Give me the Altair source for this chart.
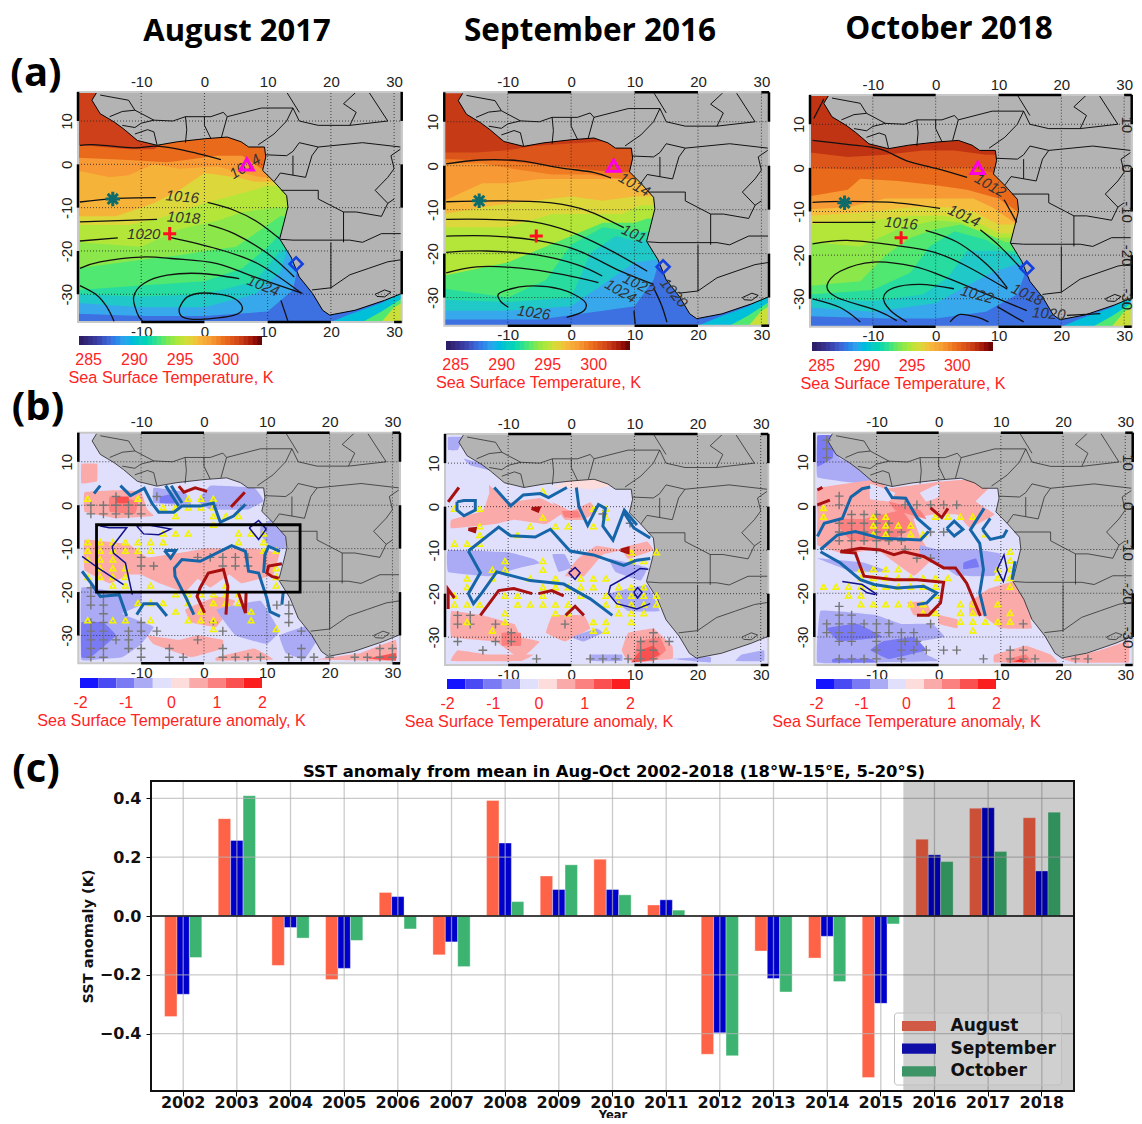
import altair as alt
import pandas as pd

W, H = 1126, 1110
M = 8
LON0, LON1, LAT0, LAT1 = -20.0, 31.2, -36.4, 16.7

# ---------- bar chart values ----------
YEARS = list(range(2002, 2019))
AUG = [-.342, .331, -.168, -.216, .080, -.132, .393, .136, .193, .0375, -.470, -.119, -.143, -.549, .261, .366, .334]
SEP = [-.266, .257, -.039, -.178, .066, -.088, .248, .090, .090, .055, -.397, -.2125, -.069, -.297, .208, .368, .153]
OCT = [-.141, .409, -.075, -.083, -.044, -.172, .049, .174, .072, .020, -.475, -.258, -.223, -.027, .185, .219, .353]

# ---------- geography ----------
COAST = [(-17, 16.7), (-17.8, 14.8), (-16.5, 11.7), (-14.3, 9.8), (-12.8, 8.2), (-10.6, 5.5), (-7.5, 4.4), (-4.3, 5.2),
         (0, 5.9), (3.6, 6.3), (5.8, 5.2), (7, 4), (9.5, 4), (9.7, 1.7), (9.2, -1.4), (11, -4), (13, -7.2), (13.2, -9.8),
         (12.6, -13.3), (11.9, -17.2), (13.7, -21.4), (15, -26), (17.1, -29.8), (18.7, -33.7), (19.8, -34.8),
         (23.8, -33.7), (28.5, -31.4), (31.2, -29.8), (31.2, 16.7)]
BORDERS = [
    [(-16.5, 16), (-12, 14.8), (-11, 12.5), (-8, 10.2), (-5, 10), (-3, 11), (1, 11), (3, 12), (3.6, 11), (9, 13), (14, 13)],
    [(-15, 11), (-13, 12.2), (-11, 12.5)], [(-13, 9), (-11, 8.5), (-10, 9.5), (-8, 10.2)],
    [(-11, 7), (-9, 8), (-8, 7.5), (-7.5, 4.5)], [(-3, 5), (-2.8, 8), (-3, 11)], [(1, 6), (0, 9), (0, 11)],
    [(2.7, 6.3), (3.6, 11)], [(8.5, 4.5), (11, 7), (13, 10), (14, 13)], [(14, 13), (15, 10), (18, 9), (23, 9), (29, 10)],
    [(9.7, 2.2), (13, 2), (14, 3), (15, 5), (18, 4), (25, 5), (31, 4)], [(11, -4), (12, -2), (14, -2.5), (14, 2)],
    [(12.2, -6), (18, -6), (18, -8), (22, -11), (24, -11), (28, -12), (29, -9), (30, -8)],
    [(12, -17.3), (14, -17.5), (23, -17.5), (25, -18)], [(22, -11), (22, -18)], [(20, -18), (20, -22), (20, -28.5)],
    [(17, -29), (20, -28.5), (23, -25.5), (26, -24), (29, -22.5), (31.2, -22)], [(25, -18), (28, -16), (31.2, -16)],
    [(23, 9), (24, 12), (22, 14), (24, 16.7)], [(13, 16.7), (15, 12)], [(29, -3), (30, -1), (29.5, 2), (31, 3.5)],
    [(14, -2.5), (16, -3), (17, 2), (18, 4)], [(29, -3), (27, -6), (29, -9)], [(26, 16.7), (29, 10)],
    [(27, -30), (28.5, -29), (29.5, -29.5), (28.5, -30.6), (27.3, -30.5), (27, -30)],
]
GRID_LON = [-10, 0, 10, 20, 30]
GRID_LAT = [10, 0, -10, -20, -30]

# ---------- colour scales ----------
SST_STOPS = [284, 286, 287.5, 289, 290.5, 292, 293, 294, 295, 296, 297, 298.5, 300, 301.5, 303, 304]
SST_COLORS = ['#2a1a5e', '#3a3fa8', '#3d70e0', '#38a8ec', '#20c8c8', '#28dca0', '#50e870', '#8ce84a', '#b4e63a', '#dcd83c',
              '#f5bc3e', '#f79a35', '#ea6a1c', '#d0431a', '#a01208', '#5a0404']
ANOM_EDGES = [-2, -1.6, -1.2, -.8, -.4, 0, .4, .8, 1.2, 1.6, 2]
ANOM_COLORS = ['#1414ff', '#4a4af5', '#7a7af5', '#aaaaf5', '#e0e0fc', '#fddcdc', '#fbaaaa', '#fb8080', '#fb5050', '#fb1e1e']

# ---------- (a) SST bands: value, upper boundary west to east ----------
SE_SST = [(290, [(20, -36.4), (23, -34.6), (28, -32), (31.2, -29.5), (31.2, -36.4)]),
          (293, [(25, -36.4), (28, -34), (31.2, -31), (31.2, -36.4)]),
          (295.5, [(28, -36.4), (30, -33), (31.2, -32), (31.2, -36.4)])]
SST_A1 = [(301.6, [(-20, 16.7), (31.2, 16.7)]),
          (300, [(-20, 4.5), (-12, 3.5), (-8, 3.5), (-5, 6), (31.2, 8)]),
          (298.5, [(-20, 1.5), (-12, 1), (-6, .5), (-3, 1), (2, 2), (6, 2), (9, -1), (31.2, -1)]),
          (297.4, [(-20, -1.5), (-15, -3), (-12, -2.5), (-8, 0), (-4, -1), (2, -.5), (6, -2), (9, -3), (31.2, -3)]),
          (296, [(-20, -12), (-14, -12), (-8, -9), (-4, -6), (0, -2), (5, -3), (8, -4), (31.2, -4)]),
          (295, [(-20, -14), (-12, -14), (-6, -12), (0, -9), (5, -7), (10, -5), (31.2, -5)]),
          (294, [(-20, -18), (-10, -19), (-4, -15), (2, -13), (6, -11), (11, -10), (31.2, -10)]),
          (293, [(-20, -24), (-10, -22), (-4, -21), (0, -20), (5, -19), (10, -14), (12, -12), (31.2, -12)]),
          (292, [(-20, -29), (-10, -28), (0, -27), (6, -24), (10, -19), (12, -16), (31.2, -16)]),
          (290.5, [(-20, -30), (-10, -30.5), (0, -30), (8, -27), (12, -20), (14, -19), (31.2, -19)]),
          (289, [(-20, -32), (-10, -33), (0, -33), (8, -30), (12, -25), (13, -20), (31.2, -20)]),
          (287.5, [(-20, -34.5), (-10, -35), (0, -35), (10, -34), (14, -29), (15, -22), (31.2, -22)])]
SST_A2 = [(301.8, [(-20, 16.7), (31.2, 16.7)]),
          (300.8, [(-20, 3), (-15, 3), (-10, 3.5), (-6, 4.5), (31.2, 8)]),
          (299.5, [(-20, 1.5), (-10, 1), (-3, 0), (3, -1), (7, -1.5), (31.2, -1)]),
          (298.5, [(-20, .5), (-14, .5), (-8, -1), (-3, -2), (3, -2), (8, -3), (31.2, -3)]),
          (297.2, [(-20, -8), (-14, -4), (-10, -4), (-5, -3), (0, -3), (5, -3), (8, -3), (31.2, -3)]),
          (296, [(-20, -11), (-12, -9), (-6, -8), (0, -7), (5, -8), (10, -7), (31.2, -7)]),
          (295, [(-20, -14), (-10, -14), (-3, -11), (3, -11), (8, -11), (11, -9), (31.2, -9)]),
          (293, [(-20, -25), (-10, -22), (-5, -19), (0, -16), (5, -13), (10, -13), (12, -12), (31.2, -12)]),
          (292, [(-20, -28), (-10, -30), (-4, -26), (0, -18), (5, -14), (10, -15), (31.2, -15)]),
          (290.5, [(-20, -30.5), (-10, -31), (0, -30), (3, -20), (7, -16), (10, -17), (31.2, -17)]),
          (289, [(-20, -33), (-10, -33), (0, -32), (5, -27), (10, -22), (31.2, -18)]),
          (287.5, [(-20, -35), (-5, -35), (5, -33), (10, -32), (13, -26), (14, -21), (31.2, -20)])]
SST_A3 = [(302, [(-20, 16.7), (31.2, 16.7)]),
          (300.8, [(-20, 3.5), (-14, 2.5), (-8, 3), (-2, 4), (3, 4), (8, 3), (31.2, 3)]),
          (300, [(-20, 0), (-12, -.5), (-6, 0), (0, 0), (5, 0), (9, -1), (31.2, -1)]),
          (298.5, [(-20, -6.5), (-14, -5), (-12, -2.5), (-6, -3), (0, -4), (5, -5), (10, -7), (13, -10), (31.2, -12)]),
          (297, [(-20, -9.5), (-14, -9), (-8, -7), (-3, -7), (2, -7), (6, -7), (9, -9), (13, -13), (31.2, -13)]),
          (296, [(-20, -11), (-10, -10), (-4, -9), (2, -9), (6, -10), (10, -13), (31.2, -13)]),
          (295, [(-20, -13), (-10, -12), (-4, -11), (1, -11), (6, -12), (10, -15), (31.2, -15)]),
          (294, [(-20, -17), (-12, -18), (-6, -14), (0, -12), (4, -12.5), (9, -16), (31.2, -16)]),
          (293, [(-20, -27), (-12, -26), (-8, -20), (-4, -16), (0, -14), (4, -13), (8, -15), (11, -17), (31.2, -17)]),
          (292, [(-20, -29), (-10, -28), (-4, -24), (-1, -18), (3, -14.5), (8, -16.5), (11, -19), (31.2, -19)]),
          (290.5, [(-20, -30), (-10, -30.5), (-2, -29), (2, -25), (5, -19), (10, -19), (13, -20), (31.2, -20)]),
          (289, [(-20, -32), (-10, -33), (0, -31), (5, -27), (9, -24), (13, -22), (31.2, -22)]),
          (287.5, [(-20, -34), (-8, -34.5), (0, -34.5), (8, -33), (13, -29), (14.5, -23), (31.2, -23)])]

# ---------- (a) pressure contours ----------
CONT_A1 = [[(-19.7, 4.4), (-17, 4.5), (-11.2, 3.8), (-7.5, 4.2), (-3.2, 3.2), (2.6, 1.1)],
           [(-19.7, -8.7), (-14.3, -7.9), (-7.7, -7.7)],
           [(.5, -8.8), (4.7, -10.6), (8.4, -13.3), (11.9, -17.2)],
           [(-19.7, -13.3), (-7.5, -12.7)], [(.6, -13.9), (4.7, -16), (10, -20.6), (14.2, -26)],
           [(-19.7, -17.7), (-13.7, -17)], [(-5.3, -16.9), (2, -19.5), (8.4, -22.9), (15.3, -29.7)],
           [(-19.7, -24), (-16.5, -22.5), (-10, -21.4), (-4.8, -21.8), (2, -22.9), (7.9, -26), (15.5, -29.8)],
           [(5.5, -26.4), (-.6, -25.2), (-5.9, -25.6), (-9.6, -27.5), (-11.2, -30.6), (-10.6, -34.5), (-9.8, -36.2)],
           [(12.1, -31.4), (13.2, -36.2)],
           [(-4, -33.3), (-2.7, -30.6), (0, -29.7), (4.2, -30.6), (6, -33), (4.7, -34.8), (-.6, -35.8), (-3.5, -35.2), (-4, -33.3)],
           [(-19.7, -28), (-17, -30.2), (-15.4, -33), (-14.3, -36.2)]]
LAB_A1 = [('1014', 6.4, -.5, 328), ('1016', -3.5, -7.5, 5), ('1018', -3.3, -12.3, 4), ('1020', -9.6, -16, 0), ('1024', 9.3, -28, 22)]
CONT_A2 = [[(-19.7, .4), (-14.4, 1.3), (-8, 1.1), (-1.7, -.5), (3.5, -1.5), (6.3, -2.8)],
           [(-19.7, -8.2), (-10.7, -8), (-2.8, -8.5), (2.5, -10.2), (8.3, -14.1)],
           [(-19.7, -12.2), (-13.4, -12.2), (-6, -12.8), (-.2, -15), (5.6, -18.8), (12, -24)],
           [(-19.7, -16), (-12.3, -16), (-5.4, -17), (.9, -19.2), (7.8, -24), (13, -27)],
           [(-19.7, -19.7), (-13.4, -19.4), (-5.4, -20.3), (.9, -22.5), (4.9, -25.1)], [(9.9, -33), (10.1, -36)],
           [(-19.7, -24.4), (-14.9, -23), (-8, -23.3), (-1.2, -24.8), (4.3, -26.6)],
           [(-9.9, -32.2), (-11.2, -30.7), (-11.2, -28.9), (-7, -27.4), (-1.7, -28.1), (2, -30.7), (2, -33), (-.7, -34.5)],
           [(13, -27.8), (14.3, -31.9), (15.1, -35.6)]]
LAB_A2 = [('1014', 10, -4.3, 30), ('101', 9.9, -15.5, 25), ('1022', 10.7, -27, 25), ('1024', 7.8, -28.5, 30),
          ('1026', -5.9, -33.4, 8), ('1020', 16.2, -28.9, 50)]
CONT_A3 = [[(-17.8, 15.8), (-19.4, 11.3)],
           [(-19.6, 6.3), (-14.1, 5.4), (-8.8, 4.3), (-4.6, 1.6), (.2, -.2), (5, -2.2)], [(10.9, -7.3), (12.9, -12.5)],
           [(-19.6, -7.9), (-14.1, -7.7), (-6.2, -8), (.7, -9.3)], [(7.1, -14.2), (10.3, -18.1), (14, -23.7)],
           [(-19.6, -12.5), (-9.6, -12.5)], [(-1.6, -14.3), (3.4, -17), (8.2, -22.2), (11.4, -27.5)],
           [(-19.6, -17.4), (-14.1, -16.6), (-6.2, -17.8), (-.3, -19.3), (4.5, -22.2), (11.4, -27.8)],
           [(14.5, -32.7), (8.2, -29), (1.8, -25.2), (-3.5, -22.6), (-9.9, -21.6), (-15.2, -23.7), (-17.3, -27), (-15.7, -29.7), (-9.3, -32.7), (-6.2, -35)],
           [(2.9, -27.7), (-2.4, -26.7), (-6.7, -27.5), (-8.3, -29.7), (-7.2, -32.7), (-4.6, -35.3)], [(9.8, -31.8), (14, -35.3)],
           [(-19.6, -30), (-15.2, -32), (-12, -35.3)], [(2.3, -35.3), (3.9, -33.6), (6.6, -34.2), (8.4, -35.3)],
           [(20.9, -33.8), (26.2, -33.4)]]
LAB_A3 = [('1012', 8.7, -4, 30), ('1014', 4.5, -11, 25), ('1016', -5.5, -12.7, 5), ('1018', 14.6, -29, 25),
          ('1022', 6.6, -29, 15), ('1020', 18, -33.4, 5)]
SITE_TRI = (6.7, 0)
SITE_STAR = (-14.5, -8)
SITE_PLUS = (-5.5, -16)
SITE_DIAMOND = (14.5, -23)

# ---------- (b) anomaly patches: value, outline ----------
ANOM_B1 = [(.6, [(-19.5, 9.5), (-17, 9.5), (-17, 5.5), (-19.5, 5)]),
           (-.6, [(-8, 4), (-3, 3), (-2, 0), (-8, .5)]), (-1, [(-7, 2), (-5, 2.5), (-4.5, .5), (-7, .5)]),
           (-.6, [(1, 4.5), (8, 4), (9.5, 1), (7, -1), (1, -1), (-1, 1)]),
           (.6, [(-19, 3), (-13, 3.5), (-10, 3), (-9, -1), (-8, -2.5), (-14, -3), (-19, -1.5)]),
           (1, [(-15, 2), (-10.5, 1), (-11, -2), (-15, -1.5)]), (1.4, [(-14, 2), (-12, 2), (-12, .5), (-14, .5)]),
           (-.6, [(9, -5), (11, -3), (13, -7), (13, -10), (11, -10), (9, -7)]),
           (.6, [(-19, -8), (-12, -9), (-9, -12), (-4, -11), (0, -10), (3, -10), (8, -10), (12, -11), (11, -16), (6, -18), (4, -16), (1, -19), (-1, -17), (-3, -20), (-7, -18), (-10, -16), (-12, -16), (-15, -18), (-19, -15)]),
           (-.6, [(-19.5, -19), (-14, -20), (-10, -20), (-10, -23), (-13, -25), (-8, -28), (-10, -32), (-13, -35), (-17, -35.5), (-19.5, -35.5)]),
           (-1, [(-19.5, -27), (-16, -27), (-14, -30), (-18, -35), (-19.5, -35)]),
           (.6, [(-3, -24), (2, -21), (5, -22), (2, -28), (-2, -27)]),
           (.6, [(-9, -30), (-4, -31), (-1, -30), (3, -31), (3, -33), (-2, -35), (-8, -32)]),
           (.6, [(2, -35), (8, -33), (11, -35.5), (2, -35.8)]),
           (-.6, [(2, -24), (9, -22), (12, -29), (10, -32), (5, -30)]),
           (-.6, [(12, -30), (16, -28), (18, -31), (16, -35.5), (13, -34)]),
           (.6, [(18, -35.5), (25, -34), (30.5, -31), (30.5, -35.8)]), (1.4, [(26, -35.3), (30.5, -34), (30.5, -35.8)])]
ANOM_B2 = [(.2, [(-3, 4.5), (0, 6), (4, 6.5), (7, 5), (3, 4)]),
           (-.6, [(-19.5, 16), (-17, 16), (-18, 13), (-19.5, 13)]), (-.6, [(-17, 11), (-13, 9.5), (-12, 8), (-16, 9.5)]),
           (.6, [(-13, 5), (-10, 1), (-5, 2), (-1, -1), (-4, -4), (-9, -3), (-12, -4), (-19, -5), (-19, -3), (-14, -1), (-13, 3)]),
           (.6, [(-3, 1), (0, -1), (3, 1), (4, -1), (2, -3), (-1, -3)]), (1, [(-1.5, -1), (1, -1), (1.5, -2.5), (-1, -2.5)]),
           (-.6, [(-19.5, -10), (-10, -10.5), (-6, -12), (-5, -13), (-8, -14), (-13, -16), (-19.5, -15)]),
           (-.6, [(-3, -11), (-1, -11), (0, -14), (-2, -15)]),
           (.6, [(1, -12), (4, -9), (8, -10), (5, -11), (2, -16), (-1, -16)]), (.6, [(8, -9.5), (12, -8), (13, -10), (9, -12)]),
           (-.6, [(6, -12), (12, -14), (11, -17), (7, -15)]), (-.6, [(6, -20), (12, -18), (14, -24), (9, -24)]),
           (.6, [(-19, -24), (-14, -25), (-9, -27), (-8, -30), (-5, -31), (-8, -35), (-12, -31), (-19, -30)]),
           (1, [(-11, -29), (-8, -29), (-8, -32), (-11, -32)]),
           (.6, [(-3, -25), (2, -25), (3, -28), (-1, -31), (-4, -29)]),
           (.6, [(9, -29), (13, -28), (16, -32), (16, -35), (9, -35.5), (8, -33)]),
           (1, [(10.5, -31), (14, -30), (15, -33), (13, -35.5), (10, -35.5)]), (1.4, [(11, -33), (13, -32), (14, -34), (12, -35.5), (9.5, -35.8)]),
           (-.6, [(0, -30), (4, -28), (5, -29), (2, -31)]), (-.6, [(16, -35), (22, -34.5), (22, -35.8)]),
           (-.6, [(27, -34), (30.5, -33), (30.5, -35.5), (26, -35.5)]), (-.6, [(3, -34), (8, -34), (8, -35.5), (3, -35.5)]),
           (.6, [(-18, -33), (-13, -34), (-6, -34), (-8, -35.5), (-19, -35.5)])]
ANOM_B3 = [(-.6, [(-19.5, 16), (-16.5, 16), (-16, 11), (-13, 9), (-10, 6.5), (-12, 5), (-19.5, 6.5)]),
           (-1, [(-19.5, 16), (-17, 16), (-17, 11), (-19.5, 9)]),
           (.6, [(-19.5, -2), (-19.5, 4), (-10, 6), (-8, 4), (0, 5.5), (5, 6), (8, 4), (6, 1), (9, -2), (5, -5), (3, -2), (-1, -2), (-4, -3), (-3, -7), (-1, -12), (-4, -16), (-10, -10), (-15, -11), (-19.5, -9)]),
           (-.2, [(-11, 5), (-7, 3), (-8, 1), (-11, 1.5)]), (-.2, [(-3, 3), (0, 5), (0, 2), (-2, 1)]),
           (1, [(-16, -3), (-12, -3), (-6, -1), (-4, -5), (-8, -8), (-14, -8), (-16, -5)]), (1, [(-8, 1), (-3, -1), (-2, -3), (-7, -1)]),
           (-.6, [(-3, -9), (0, -10), (6, -10), (10, -11), (9, -16), (3, -16), (0, -13), (-3, -11)]),
           (-1, [(4, -13), (6, -12), (6.5, -14), (4, -14.5)]), (-.6, [(-19.5, -12), (-12, -13), (-8, -15), (-14, -15)]),
           (.6, [(5, -22), (8, -19), (13, -17), (14, -22), (15, -28), (10, -28), (7, -25), (5, -25)]),
           (.6, [(-5, -22), (-2, -22), (-1, -25), (-4, -25)]), (.6, [(0, -25), (3, -26), (3, -28), (0, -27)]),
           (.6, [(11, -25), (15, -25), (14, -28), (11, -27)]),
           (-.6, [(-19, -24), (-10, -25), (-6, -27), (-1, -27), (1, -30), (-3, -31), (-2, -34), (0, -35.5), (-10, -35.8), (-19.5, -35.8)]),
           (-1, [(-18, -28), (-13, -27), (-9, -30), (-16, -31)]), (-1, [(-9, -31), (-4, -30), (-2, -33), (-8, -35), (-11, -33)]),
           (-1, [(-17, -35), (-11, -35), (-10, -35.8), (-17, -35.8)]),
           (.6, [(9, -34), (14, -32), (18, -34), (19, -35.8), (9, -35.8)]), (1, [(11, -35), (14, -34), (15, -35.8), (11, -35.8)]),
           (1.6, [(12, -35.6), (13.5, -35), (14, -35.8)]), (.6, [(20, -35), (26, -33), (30.5, -31), (30.5, -35.8), (22, -35.8)])]

# ---------- (b) significance markers, (lat, lons) ----------
PLUS_B1 = [(2, [-14, -7.5]), (0, [-18, -16, -14, -12, -10]), (-2, [-18, -16, -14, -12, -10]), (-12, [-10, -1, 1, 3, 5, 7]),
           (-14, [-10, -8, 3, 5, 7]), (-19, [-18]), (-21, [-18, -16]), (-23, [-18, -16, 11.6, 13.5]), (-25, [-16, 13.5]),
           (-27, [-18, -16, -10, 1.5, 13.5]), (-29, [-18, -16, -12, -10, -7.5, 3, 15.5]), (-31, [-18, -16, -14, -12, -1]),
           (-33, [-18, -16, -12, -10, -5.5, 3, 15.5, 28, 30]),
           (-35, [-18, -16, -10, -5.5, -3.3, 3, 5, 7, 9, 13.5, 15.5, 17.5, 20, 24, 26, 28, 30])]
TRI_B1 = [(1.5, [-18.5, -10.5, -2.5, -.5, 1.5]), (-.5, [-6.5, -4.5, -2.5, -.5, 1.5]), (-2.5, [-4.5, 1.5, 3.5, 5.5]), (-4.5, [1.5]),
          (-6.5, [-6.5, -4.5, -2.5, 5.5, 7.5, 9.5]), (-8.5, [-18.5, -16.5, -14.5, -12.5, -10.5, -8.5, -6.5, 5.5, 9.5]),
          (-10.5, [-18.5, -16.5, -14.5, -12.5, -10.5, -8.5, 9.5, 11.5]), (-12.5, [-18.5, -16.5, -14.5]),
          (-14.5, [-16.5, -14.5, -12.5, 11.5]), (-16.5, [-18.5, -16.5, -14.5, -12.5, 11.5]),
          (-18.5, [-14.5, -12.5, -8.5, 3.5, 11.5]), (-20.5, [-4.5, -2.5, -.5, 1.5, 3.5, 5.5]),
          (-22.5, [-10.5, -8.5, -6.5, -2.5, 1.5, 3.5, 5.5]), (-24.5, [-4.5, -.5, 7.5]),
          (-26.5, [-18.5, -14.5, -12.5, -8.5, -2.5, -.5, 1.5, 7.5]), (-28.5, [1.5, 11.5])]
PLUS_B2 = [(-25, [-18, -16]), (-27, [-18, -16, -12, -1]), (-29, [-9.5, 13]), (-31, [-18, -12, -9.5, 11, 13, 15.5]),
           (-33, [-14, 11, 13]), (-35, [-5.5, 3, 5, 7, 9, 11, 13]), (-1.7, [5]), (-3.8, [9.3])]
TRI_B2 = [(3.5, [-4.5]), (-.5, [-18.5, -14.5, 3.5, 5.5]), (-2.5, [-4.5, 5.5]), (-4.5, [-14.5, -6.5, -2.5, -.5, 3.5]),
          (-6.5, [-14.5, -8.5]), (-8.5, [-18.5, -16.5, -14.5]), (-10.5, [9.5, 13.5]), (-12.5, [-10.5, -4.5, 9.5, 11.5]),
          (-14.5, [-12.5, -10.5, -4.5]), (-16.5, [-16.5, -12.5, -6.5, -2.5, 1.5, 3.5, 5.5]),
          (-18.5, [-16.5, -4.5, -2.5, -.5, 1.5, 3.5, 7.5, 9.5, 11.5]),
          (-20.5, [-18.5, -10.5, -8.5, -4.5, 1.5, 5.5, 7.5, 9.5, 11.5, 13.5]),
          (-22.5, [-18.5, -16.5, -14.5, -8.5, -6.5, -4.5, -2.5, -.5, 5.5, 7.5, 9.5, 11.5, 13.5]),
          (-24.5, [-10.5, -2.5, -.5, 7.5, 9.5, 11.5]), (-26.5, [-16.5, -10.5, 3.5, 5.5, 9.5]), (-28.5, [-12.5, 3.5, 5.5])]
PLUS_B3 = [(15, [-18]), (13, [-18]), (11, [-18]), (2.2, [-16]), (.2, [-16, -5.4, -3.5, -1.3, .8, 2.9]), (-2, [-14, -12, -10]),
           (-4, [-16, -14, -12, -10, -8]), (-6, [-16, -14, -12, -10, -8, -6, -1.3, .8]), (-8, [-16, -14, -12, -10, -8, -6]),
           (-10, [-14, -10, -5.4]), (-12, [-3.5, -1.3]), (-23, [-16]), (-25, [-16, -14]),
           (-27, [-18, -16, -14, -12, -10, -8, -1.3, 13.6]), (-29, [-18, -16, -14, -10, -8, -6, -4]),
           (-31, [-16, -14, -10, -6, -5.4, -3.5]), (-33, [-10, -6, -4, -2, .8, 2.9, 11.5, 13.6]),
           (-35, [-16, -14, -12, -10, -6, 7.2, 11.5, 13.6, 15.5, 22, 24])]
TRI_B3 = [(-.5, [-18.5]), (-2.5, [-18.5, -10.5, -8.5, -.5, 1.5, 3.5, 5.5]), (-4.5, [-10.5, -8.5, -6.5, -4.5]),
          (-6.5, [-10.5, -8.5, -4.5, -2.5, 7.5]), (-10.5, [11.5]), (-12.5, [11.5]),
          (-14.5, [-12.5, -10.5, -8.5, -6.5, 9.5, 11.5]), (-16.5, [-12.5, -10.5, -8.5, -6.5, -4.5, -2.5, -.5, 1.5, 9.5, 11.5]),
          (-18.5, [-18.5, -16.5, -14.5, -12.5, -10.5, -8.5, -6.5, -4.5, -2.5, -.5, 11.5]), (-20.5, [-14.5, -12.5, -.5]),
          (-22.5, [-12.5, -10.5, -8.5, -6.5, -4.5, -2.5, 3.5, 5.5, 9.5]), (-24.5, [-2.5, -.5, 3.5, 5.5, 11.5]),
          (-26.5, [3.5, 5.5, 7.5, 9.5, 11.5]), (-28.5, [5.5])]

# ---------- (b) contour lines ----------
BLUE_B1 = [[(-17.5, 2.7), (-16.5, 4.5)],
           [(-13.3, 4.5), (-11.7, 2.2), (-9.5, 3.9), (-8.3, .5), (-7.2, -1.6), (-4.8, -1.6), (-3.5, -.2), (-.6, -.2), (1.5, .5), (2.6, -3.9), (4.7, -2.5), (6.6, .2)],
           [(-6.1, 4.5), (-4, -.2)], [(-5.2, 4.5), (-3.5, .5)],
           [(-19.4, -15.2), (-18, -17.9), (-16.5, -21), (-13.5, -20.6), (-12.3, -25.5)],
           [(-10.7, -25.2), (-9.6, -22.7), (-7.5, -22.7), (-5.9, -25.5)],
           [(-1.6, -25.2), (-2.7, -21.8), (-4.6, -16.4), (-4.7, -14.5), (-3.5, -12.5), (-.6, -12.9), (4.4, -9.3), (6.6, -10.6), (7.1, -15.2), (8.7, -15.6), (10, -21.4), (10.5, -24.5), (12.1, -25.6)],
           [(9.5, -15.6), (9.7, -11.4), (10.3, -9.5), (12.1, -10.6)], [(12.4, -22.9), (12.6, -20.2)],
           [(-6.3, -10.4), (-4.5, -10.4), (-5.3, -12.2), (-6.3, -10.4)]]
RED_B1 = [[(-4, 4.4), (-3.2, 3), (-1.4, 4), (.5, 3.2)], [(4.3, -.4), (6.5, 3)],
          [(.1, -24.8), (-1.1, -21), (-.6, -19), (.7, -15.6), (3.1, -14.8), (3.8, -18.7), (3.5, -25.2)],
          [(5.5, -20.2), (6.6, -24.8), (6.7, -20.2)], [(12.4, -13.5), (10.3, -14), (10, -15.6), (10.8, -16.4), (11.9, -16.8)]]
NAVY_B1 = [[(-16.5, -4.8), (-15.1, -5.2), (-12.3, -5.2), (-14.6, -9.5), (-14.4, -11), (-12.5, -13.3), (-11.4, -20.6)],
           [(-19.4, -11.8), (-16.5, -14.8), (-12.8, -18.3)],
           [(-10.7, -4.8), (-9, -4.5), (-5.3, -5.5), (-7.2, -6.8), (-9.6, -6.6), (-10.7, -4.8)],
           [(7.2, -5.2), (8.7, -3.5), (9.9, -5.5), (8.7, -7.9), (7.2, -5.2)]]
BLUE_B2 = [[(-12.2, 4.4), (-9.6, .2), (-7.6, 2.7), (-4.9, 3), (-3.6, 2.1), (-.7, 4.4)],
           [(.8, 4.4), (1.2, 0), (2.6, -4.3), (4.3, .5), (5.4, -.4), (5, -4.5), (6.6, -7.7), (8.4, -.8), (10.4, -4.2)],
           [(8.4, -1.5), (9.9, -4.9), (12.5, -7.2)],
           [(-18.1, 1.1), (-17, 1.4), (-15.2, 1.4), (-15.2, -.8), (-17, -2.1), (-18.1, -.8), (-18.1, 1.1)],
           [(-16.3, -10.2), (-14.4, -15.2), (-16.3, -20), (-15.5, -22.3), (-14.1, -19.7), (-11.8, -15), (-6.5, -17), (-1.2, -17.8), (3, -21.2), (6.5, -25)],
           [(-16.3, -10.2), (-11.5, -4.7), (-9.6, -6.7), (-5.7, -7), (-3.3, -5.2), (-.2, -10.2), (3.5, -11.1), (8.3, -13.5), (10.4, -12.3), (12.5, -11.9)]]
RED_B2 = [[(-19.5, 1.1), (-17.8, 4.4)], [(-19.5, -23.5), (-19.5, -19), (-18.5, -21)],
          [(-14.4, -25), (-11.5, -19.3), (-9.1, -18.8), (-6.2, -20)], [(-5.2, -20), (-3.1, -19.3), (-1.2, -20.5)],
          [(-.9, -25), (.6, -22.9), (2, -25)], [(-6.3, -.4), (-5.1, -.3), (-5.3, -1), (-6.3, -.4)],
          [(-16.3, -5.2), (-15.2, -5), (-15.3, -5.7), (-16.3, -5.2)], [(7.8, -10), (9, -9.5), (9, -10.6), (7.8, -10)]]
NAVY_B2 = [[(-.4, -15.2), (.6, -14), (1.4, -15.2), (.6, -16.7), (-.4, -15.2)],
           [(5.9, -20), (6.2, -18.2), (9.9, -15.2), (10.9, -14.2), (12.2, -14.4)],
           [(5.9, -20), (7.2, -22.3), (10.4, -23.5), (12.5, -22.3)],
           [(9.9, -19.7), (10.5, -18.6), (11.2, -19.7), (10.5, -21), (9.9, -19.7)]]
BLUE_B3 = [[(-19.5, -7), (-18.4, -4), (-15.5, -2.9), (-14.1, 2), (-12.3, 3.9), (-11, 4.3)],
           [(-8.6, 4.3), (-7.5, 1.9), (-5.3, 1.7), (-3.4, -2.9), (-1.3, -5.5)],
           [(-19, -10), (-16.3, -6.7), (-13.4, -5.9), (-9.4, -7.4), (-2.9, -7.8), (-1.6, -5.9)],
           [(-19, -10.5), (-15.8, -13.1), (-12.6, -16.9), (-10.4, -18), (-6.7, -18.8), (-2.4, -18.4), (-.3, -19.9), (-1.9, -22.2), (-3.5, -22.6)],
           [(1.3, -5.2), (2.5, -3.5), (3.9, -5.4), (2.5, -6.9), (1.3, -5.2)],
           [(7.3, -.6), (5.1, -5.5), (6.6, -8.6), (7.2, -14.6), (6.6, -19.9), (7.5, -25.2)],
           [(7, -5.5), (8.3, -2.9)], [(7.1, -5.5), (8.3, -7.7), (10.4, -7), (11, -5.5)], [(11.8, -16.9), (12.3, -12.7)]]
RED_B3 = [[(-19.5, .2), (-17.5, 1.3)], [(-19.5, 3.6), (-18.7, 4.2)], [(-1.3, -.5), (.5, -2.7), (1.5, -.6)],
          [(-15.8, -10.5), (-12.6, -9.7), (-9.4, -10.1), (-7.2, -11.2), (-5.6, -10.5), (-2.4, -11.6), (.8, -14.2), (2.7, -14.2), (4.5, -17.7), (6.7, -25.2)],
          [(-15.8, -10.5), (-13.4, -10.8), (-12.6, -13.9), (-12, -16.1), (-7.2, -16.9), (-3.5, -16.9), (.8, -17.5), (.3, -22.2), (-1.6, -25), (-3.5, -25)]]
NAVY_B3 = [[(-15.5, -17.3), (-12.3, -18), (-9.9, -20.3)], [(-12.6, -18.8), (-11.5, -19.9), (-10.2, -20.3)],
           [(9.4, -14.6), (10.5, -11.2), (11, -14.6), (10.4, -17.3), (9.4, -14.6)]]
BOX_B1 = [(-17.1, 15.3, -4.5, -20)]

PLUS_PATH = 'M-1,0L1,0M0,-1L0,1'
STAR_PATH = 'M-1,0L1,0M0,-1L0,1M-.7,-.7L.7,.7M-.7,.7L.7,-.7'
MAP_FONT = 'Liberation Sans'
BAR_FONT = 'DejaVu Sans'
RED = '#ff2424'


class P:
    def __init__(s, x0, x1, y0, y1, top=True, right=False):
        s.x0, s.x1, s.y0, s.y1, s.top, s.right = x0 - M, x1 - M, y0 - M, y1 - M, top, right


def sx(p):
    return alt.Scale(domain=[LON0, LON1], range=[p.x0, p.x1], nice=False, zero=False)


def sy(p):
    return alt.Scale(domain=[LAT0, LAT1], range=[p.y1, p.y0], nice=False, zero=False)


def X(p, f='lon', axis=None):
    return alt.X(f + ':Q', scale=sx(p), axis=axis, title=None)


def Y(p, f='lat', axis=None):
    return alt.Y(f + ':Q', scale=sy(p), axis=axis, title=None)


def rows(lines, **kw):
    out = []
    for g, line in enumerate(lines):
        for i, (lon, lat) in enumerate(line):
            out.append(dict(g=g, i=i, lon=lon, lat=lat, **kw))
    return pd.DataFrame(out)


def valued_rows(items, close_south=False):
    out = []
    for g, (v, line) in enumerate(items):
        pts = list(line)
        if close_south:
            pts = pts + [(LON1, LAT0), (LON0, LAT0)]
        for i, (lon, lat) in enumerate(pts):
            out.append(dict(g=g, i=i, lon=lon, lat=lat, v=v))
    return pd.DataFrame(out)


def lines(p, data, color, width, interp='linear', dash=None):
    kw = dict(color=color, strokeWidth=width, interpolate=interp)
    if dash:
        kw['strokeDash'] = dash
    return alt.Chart(rows(data)).mark_line(**kw).encode(x=X(p), y=Y(p), detail='g:N', order='i:Q')


def map_axes(p):
    base = dict(domain=False, ticks=False, grid=False, labelFontSize=15, labelFont=MAP_FONT, labelColor='#222',
                labelExpr="'' + datum.value", title=None, labelOverlap=False, labelFlush=False, labelBound=False)
    ticks = pd.DataFrame({'lon': GRID_LON, 'lat': GRID_LAT})
    top = alt.Chart(ticks).mark_point(opacity=0).encode(
        x=X(p, axis=alt.Axis(orient='top', offset=-p.y0, values=GRID_LON, labelPadding=3, **base)),
        y=Y(p, axis=alt.Axis(orient='left', offset=-p.x0, values=GRID_LAT, labelAngle=270, labelAlign='center',
                             labelBaseline='bottom', labelPadding=4, **base)))
    # the canvas ends just past the east frame, so these labels sit against its inside, above the map
    yr = Y(p, axis=alt.Axis(orient='right', offset=-(W - (p.x1 - 13)), values=GRID_LAT, labelAngle=90, labelAlign='center',
                            labelBaseline='bottom', labelPadding=0, zindex=2, **base)) if p.right else Y(p)
    bot = alt.Chart(ticks).mark_point(opacity=0).encode(
        x=X(p, axis=alt.Axis(orient='bottom', offset=-(H - p.y1), values=GRID_LON, labelPadding=2, **base)), y=yr)
    return [top, bot]


def grid_and_frame(p):
    out = []
    gx = pd.DataFrame({'lon': GRID_LON, 'a': LAT0, 'b': LAT1})
    gy = pd.DataFrame({'lat': GRID_LAT, 'a': LON0, 'b': LON1})
    out.append(alt.Chart(gx).mark_rule(color='#222', strokeWidth=.8, strokeDash=[1, 2]).encode(x=X(p), y=Y(p, 'a'), y2='b:Q'))
    out.append(alt.Chart(gy).mark_rule(color='#222', strokeWidth=.8, strokeDash=[1, 2]).encode(y=Y(p), x=X(p, 'a'), x2='b:Q'))
    frame = pd.DataFrame([dict(a=LON0, b=LON1, c=LAT0, d=LAT1)])
    out.append(alt.Chart(frame).mark_rect(fill='transparent', stroke='#c8c8c8', strokeWidth=2).encode(
        x=X(p, 'a'), x2='b:Q', y=Y(p, 'c'), y2='d:Q'))
    hs = pd.DataFrame({'a': [-10, 10, 30], 'b': [0, 20, LON1]})
    vs = pd.DataFrame({'a': [10, 0, -20], 'b': [LAT1, -10, -30]})
    for edge in ([LAT1] if p.top else []) + [LAT0]:
        out.append(alt.Chart(hs.assign(e=edge)).mark_rule(color='black', strokeWidth=2.5).encode(
            x=X(p, 'a'), x2='b:Q', y=Y(p, 'e')))
    for edge in [LON0, LON1]:
        out.append(alt.Chart(vs.assign(e=edge)).mark_rule(color='black', strokeWidth=2.5).encode(
            y=Y(p, 'a'), y2='b:Q', x=X(p, 'e')))
    return out


def land(p, stroke_color, width):
    closed = COAST + [COAST[0]]
    a = alt.Chart(rows([closed])).mark_line(fill='#b3b3b3', color=stroke_color, strokeWidth=width).encode(
        x=X(p), y=Y(p), detail='g:N', order='i:Q')
    return [a, lines(p, BORDERS, stroke_color, width * .9)]


def sst_panel(p, bands, contours, labels, bar):
    fill = alt.Fill('v:Q', scale=alt.Scale(domain=SST_STOPS, range=SST_COLORS), legend=None)
    layers = [alt.Chart(valued_rows(bands, True)).mark_line(strokeWidth=0).encode(
        x=X(p), y=Y(p), detail='g:N', order='i:Q', fill=fill)]
    layers.append(alt.Chart(valued_rows(SE_SST)).mark_line(strokeWidth=0, interpolate='linear').encode(
        x=X(p), y=Y(p), detail='g:N', order='i:Q', fill=fill))
    layers += land(p, 'black', 1)
    layers += grid_and_frame(p)
    layers.append(lines(p, contours, '#111', 1.3, 'cardinal'))
    lab = pd.DataFrame(labels, columns=['t', 'lon', 'lat', 'a'])
    layers.append(alt.Chart(lab).mark_text(font=MAP_FONT, fontSize=15, fontStyle='italic', color='#333').encode(
        x=X(p), y=Y(p), text='t:N', angle=alt.Angle('a:Q', scale=None)))
    for site, shape, col, size, sw in [(SITE_TRI, 'triangle-up', '#ff00e6', 170, 3), (SITE_STAR, STAR_PATH, '#0d6b6b', 210, 3),
                                       (SITE_PLUS, PLUS_PATH, '#ff0f1f', 170, 3), (SITE_DIAMOND, 'diamond', '#1540e0', 170, 2.6)]:
        d = pd.DataFrame([dict(lon=site[0], lat=site[1])])
        layers.append(alt.Chart(d).mark_point(shape=shape, color=col, size=size, strokeWidth=sw, opacity=1, filled=False).encode(x=X(p), y=Y(p)))
    layers += map_axes(p)
    layers += sst_bar(*bar)
    return layers


def sst_bar(x0, x1, y0, y1):
    ks = [284 + .5 * i for i in range(40)]
    d = pd.DataFrame({'a': ks, 'b': [min(k + .7, 304) for k in ks], 'v': [k + .25 for k in ks]})
    ax = alt.Axis(orient='bottom', offset=-(H - (y1 - M)), values=[285, 290, 295, 300], domain=False, ticks=False, grid=False,
                  labelFontSize=16, labelFont=MAP_FONT, labelColor=RED, labelPadding=6, title='Sea Surface Temperature, K',
                  titleFontSize=16.3, titleFont=MAP_FONT, titleColor=RED, titleFontWeight='normal', titlePadding=2)
    c = alt.Chart(d).mark_rect().encode(
        x=alt.X('a:Q', scale=alt.Scale(domain=[284, 304], range=[x0 - M, x1 - M], nice=False, zero=False), axis=ax),
        x2='b:Q', y=alt.value(y0 - M), y2=alt.value(y1 - M),
        fill=alt.Fill('v:Q', scale=alt.Scale(domain=SST_STOPS, range=SST_COLORS), legend=None))
    return [c]


def anom_bar(x0, x1, y0, y1):
    a = ANOM_EDGES[:-1]
    b = ANOM_EDGES[1:]
    d = pd.DataFrame({'a': a, 'b': b, 'c': ANOM_COLORS})
    ax = alt.Axis(orient='bottom', offset=-(H - (y1 - M)), values=[-2, -1, 0, 1, 2], domain=False, ticks=False, grid=False,
                  labelExpr="'' + datum.value", labelFontSize=16, labelFont=MAP_FONT, labelColor=RED, labelPadding=6, labelFlush=False,
                  title='Sea Surface Temperature anomaly, K', titleFontSize=16.2, titleFont=MAP_FONT, titleColor=RED,
                  titleFontWeight='normal', titlePadding=2)
    c = alt.Chart(d).mark_rect().encode(
        x=alt.X('a:Q', scale=alt.Scale(domain=[-2, 2], range=[x0 - M, x1 - M], nice=False, zero=False), axis=ax),
        x2='b:Q', y=alt.value(y0 - M), y2=alt.value(y1 - M), fill=alt.Fill('c:N', scale=None))
    return [c]


def marks(p, table, path, col, size, sw):
    d = pd.DataFrame([dict(lat=lat, lon=lon) for lat, lons in table for lon in lons])
    return alt.Chart(d).mark_point(shape=path, color=col, size=size, strokeWidth=sw, opacity=1, filled=False).encode(x=X(p), y=Y(p))


def anom_panel(p, patches, plus, tri, blue, red, navy, bar, box=None):
    base = [(-.2, [(LON0, LAT1), (LON1, LAT1), (LON1, LAT0), (LON0, LAT0)])]
    fill = alt.Fill('v:Q', scale=alt.Scale(type='threshold', domain=ANOM_EDGES[1:-1], range=ANOM_COLORS), legend=None)
    layers = [alt.Chart(valued_rows(base)).mark_line(strokeWidth=0).encode(x=X(p), y=Y(p), detail='g:N', order='i:Q', fill=fill)]
    layers.append(alt.Chart(valued_rows(patches)).mark_line(strokeWidth=0, interpolate='cardinal-closed', tension=.8).encode(
        x=X(p), y=Y(p), detail='g:N', order='i:Q', fill=fill))
    layers += land(p, '#222', .8)
    layers += grid_and_frame(p)
    layers.append(marks(p, plus, PLUS_PATH, '#777777', 75, 1.4))
    layers.append(marks(p, tri, 'triangle-up', '#f4f400', 32, 1.6))
    layers.append(lines(p, navy, '#12128c', 1.5))
    layers.append(lines(p, blue, '#1565a8', 3))
    layers.append(lines(p, red, '#a80f0f', 3))
    if box:
        d = pd.DataFrame(box, columns=['a', 'b', 'c', 'd'])
        layers.append(alt.Chart(d).mark_rect(fill='transparent', stroke='black', strokeWidth=2.8).encode(
            x=X(p, 'a'), x2='b:Q', y=Y(p, 'c'), y2='d:Q'))
    layers += map_axes(p)
    layers += anom_bar(*bar)
    return layers


def bar_layers():
    x0, x1, y0, y1 = 151 - M, 1074 - M, 781 - M, 1091 - M
    ysc = alt.Scale(domain=[-.595, .459], range=[y1, y0], nice=False, zero=False)
    qx = alt.Scale(domain=[2001.4, 2018.6], range=[x0, x1], nice=False, zero=False)
    band = alt.Scale(domain=YEARS, range=[x0, x1], paddingInner=.306, paddingOuter=.253)
    months = ['August', 'September', 'October']
    long = pd.DataFrame([dict(year=y, m=m, v=v) for m, vals in zip(months, (AUG, SEP, OCT)) for y, v in zip(YEARS, vals)])
    axk = dict(labelFont=BAR_FONT, labelFontWeight='bold', labelFontSize=16, labelColor='#111', tickColor='black', tickSize=5,
               titleFont=BAR_FONT, titleFontWeight='bold', titleColor='#111', domain=False, grid=False)
    bars = alt.Chart(long).mark_bar(stroke='white', strokeOpacity=.35, strokeWidth=1).encode(
        x=alt.X('year:O', scale=band, sort=YEARS, axis=alt.Axis(orient='bottom', offset=-(H - y1), title='Year', labelAngle=0,
                                                               labelPadding=-2, titlePadding=-1, titleFontSize=11.5, labelOverlap=False, **axk)),
        xOffset=alt.XOffset('m:N', sort=months),
        y=alt.Y('v:Q', scale=ysc, axis=alt.Axis(orient='left', offset=-x0, title='SST anomaly (K)', values=[-.4, -.2, 0, .2, .4],
                                                format='.1f', labelPadding=5, titlePadding=4, titleFontSize=14.5, **axk)),
        y2=alt.datum(0),
        fill=alt.Fill('m:N', scale=alt.Scale(domain=months, range=['#ff6347', '#0000cd', '#3cb371']), legend=None))
    gv = pd.DataFrame({'x': YEARS, 'a': -.595, 'b': .459})
    gh = pd.DataFrame({'y': [-.4, -.2, 0, .2, .4], 'a': 2001.4, 'b': 2018.6})
    l1 = alt.Chart(gv).mark_rule(color='#b4b4b4', strokeWidth=1.3, opacity=.7).encode(
        x=alt.X('x:Q', scale=qx, axis=None), y=alt.Y('a:Q', scale=ysc, axis=None), y2='b:Q')
    l2 = alt.Chart(gh).mark_rule(color='#b4b4b4', strokeWidth=1.3, opacity=.7).encode(
        y=alt.Y('y:Q', scale=ysc, axis=None), x=alt.X('a:Q', scale=qx, axis=None), x2='b:Q')
    zero = alt.Chart(pd.DataFrame({'y': [0], 'a': [2001.4], 'b': [2018.6]})).mark_rule(color='#111', strokeWidth=1.6).encode(
        y=alt.Y('y:Q', scale=ysc, axis=None), x=alt.X('a:Q', scale=qx, axis=None), x2='b:Q')
    shade = alt.Chart(pd.DataFrame([dict(a=2015.42, b=2018.6, c=-.595, d=.459)])).mark_rect(color='black', opacity=.2).encode(
        x=alt.X('a:Q', scale=qx, axis=None), x2='b:Q', y=alt.Y('c:Q', scale=ysc, axis=None), y2='d:Q')
    frame = alt.Chart(pd.DataFrame([dict(a=2001.4, b=2018.6, c=-.595, d=.459)])).mark_rect(
        fill='transparent', stroke='#111', strokeWidth=2).encode(
        x=alt.X('a:Q', scale=qx, axis=None), x2='b:Q', y=alt.Y('c:Q', scale=ysc, axis=None), y2='d:Q')
    leg = alt.Chart(pd.DataFrame({'m': months})).mark_point(opacity=0).encode(
        x=alt.value(900), y=alt.value(1040),
        fill=alt.Fill('m:N', sort=months, scale=alt.Scale(domain=months, range=['#d05a45', '#0f0fa8', '#3d9466']),
                      legend=alt.Legend(orient='none', legendX=886, legendY=1004.5, title=None, symbolType='M-2,-.6H2V.6H-2Z',
                                        symbolSize=289, symbolOpacity=1, symbolStrokeWidth=0, rowPadding=4.7, symbolOffset=11.5, labelOffset=23,
                                        labelFont=BAR_FONT, labelFontWeight='bold', labelFontSize=17, labelColor='#111',
                                        padding=5, fillColor='rgba(255,255,255,0.08)', strokeColor='#c0c0c0', cornerRadius=3)))
    return [bars, l1, l2, zero, shade, frame, leg]


def note(text, x, y, size, font='Open Sans', weight='bold', color='black', align='center'):
    return alt.Chart(alt.Data(values=[{'a': 1}])).mark_text(text=text, font=font, fontWeight=weight, fontSize=size, color=color, align=align).encode(
        x=alt.value(x - M), y=alt.value(y - M))


layers = []
layers += sst_panel(P(78, 401.7, 92, 322, top=False), SST_A1, CONT_A1, LAB_A1, (79, 262, 336, 345))
layers += sst_panel(P(444.3, 769, 92.3, 325.7), SST_A2, CONT_A2, LAB_A2, (446, 630, 341, 350))
layers += sst_panel(P(810, 1131.7, 95, 326.7, right=True), SST_A3, CONT_A3, LAB_A3, (812, 993, 342, 351))
layers += anom_panel(P(78.3, 400, 432.7, 663.3), ANOM_B1, PLUS_B1, TRI_B1, BLUE_B1, RED_B1, NAVY_B1, (80, 262, 678, 688), BOX_B1)
layers += anom_panel(P(445, 768.3, 434, 665), ANOM_B2, PLUS_B2, TRI_B2, BLUE_B2, RED_B2, NAVY_B2, (447, 630, 679, 689))
layers += anom_panel(P(814.3, 1132.7, 432.7, 665, right=True), ANOM_B3, PLUS_B3, TRI_B3, BLUE_B3, RED_B3, NAVY_B3, (816, 996, 679, 689))
layers += bar_layers()
layers += [note('August 2017', 237, 32, 31), note('September 2016', 590, 32, 31.5), note('October 2018', 949, 30, 31.5),
           note('(a)', 36, 74, 40), note('(b)', 38, 408, 40), note('(c)', 36, 770, 40),
           note('SST anomaly from mean in Aug-Oct 2002-2018 (18°W-15°E, 5-20°S)', 614, 772, 16.4, font=BAR_FONT)]

chart = alt.layer(*layers).resolve_scale(x='independent', y='independent', fill='independent', color='independent').properties(
    width=W, height=H, padding=0, autosize=alt.AutoSizeParams(type='none')).configure_view(strokeWidth=0)

chart.save("out.html", embed_options={"renderer": "svg", "actions": False})
